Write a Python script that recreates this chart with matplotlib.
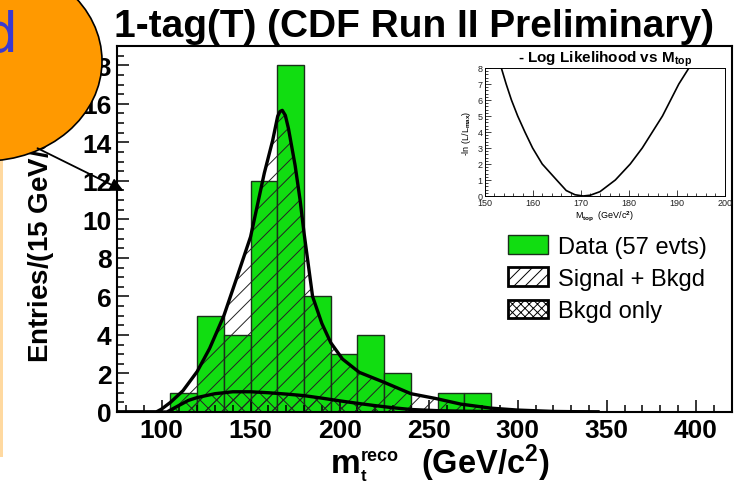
import matplotlib
matplotlib.use('Agg')
import matplotlib.pyplot as plt
from matplotlib.patches import Ellipse, Rectangle, Patch, FancyArrowPatch
from matplotlib.ticker import MultipleLocator

plt.rcParams['font.family'] = ['Liberation Sans', 'DejaVu Sans']
plt.rcParams['mathtext.fontset'] = 'custom'
plt.rcParams['mathtext.rm'] = 'Liberation Sans:bold'
plt.rcParams['mathtext.it'] = 'Liberation Sans:bold'
plt.rcParams['mathtext.bf'] = 'Liberation Sans:bold'
plt.rcParams['hatch.linewidth'] = 0.7

# histogram, 15 GeV bins
bin_lo = [105, 120, 135, 150, 165, 180, 195, 210, 225, 240, 255, 270]
counts = [1, 5, 4, 12, 18, 6, 3, 4, 2, 0, 1, 1]
bin_w = 15

# signal + background fit
fit_m = [75, 97, 100, 105, 112, 120, 127, 135, 142, 150, 157.7, 162.4, 165.2, 166.5,
         167.8, 169.5, 171.3, 175, 177.8, 180, 184.8, 190, 195, 201.6, 211, 225, 240,
         254, 268, 285, 300, 320, 345]
fit_tot = [0, 0, 0.15, 0.5, 1.1, 2.1, 3.3, 5.0, 6.9, 9.1, 12.4, 14.1, 15.35, 15.6,
           15.66, 15.4, 14.7, 12.8, 11.0, 9.3, 6.0, 4.6, 3.6, 2.75, 2.06, 1.54, 0.95,
           0.7, 0.41, 0.2, 0.1, 0.03, 0]

# background only
bkg_m = [75, 103, 110, 115, 120, 130, 140, 150, 160, 170, 180, 190, 200, 210, 220,
         230, 240, 255, 270, 290, 310, 345]
bkg = [0, 0, 0.35, 0.6, 0.75, 0.95, 1.05, 1.05, 1.0, 0.93, 0.85, 0.72, 0.58, 0.45,
       0.33, 0.22, 0.13, 0.07, 0.04, 0.02, 0.01, 0]

# inset: -ln(L/Lmax) vs Mtop
ll_m = [153.5, 154.5, 155.6, 156.9, 158.4, 160.0, 162.0, 165.0, 167.0, 168.8, 170.5,
        172.0, 174.0, 177.2, 180.3, 182.8, 184.9, 187.0, 188.7, 190.4, 192.5]
ll_v = [8, 7, 6, 5, 4, 3, 2, 1, 0.34, 0.08, 0, 0.05, 0.27, 1, 2, 3, 4, 5, 6, 7, 8]

green = '#11dd11'
W, H = 740, 485

fig = plt.figure(figsize=(7.4, 4.85), dpi=100)
ax = fig.add_axes([117 / W, 1 - 413 / H, (731.5 - 117) / W, (413 - 47) / H])

ax.bar(bin_lo, counts, width=bin_w, align='edge', color=green,
       edgecolor='#1a301a', linewidth=1.0, zorder=1)
ax.fill_between(fit_m, 0, fit_tot, facecolor='none', edgecolor='#222222',
                linewidth=0, hatch='//', zorder=2)
ax.fill_between(bkg_m, 0, bkg, facecolor='none', edgecolor='#222222',
                linewidth=0, hatch='xx', zorder=2)
ax.plot(fit_m, fit_tot, color='black', lw=2.4, zorder=3)
ax.plot(bkg_m, bkg, color='black', lw=2.4, zorder=3)

ax.set_xlim(75, 420)
ax.set_ylim(0, 19)
ax.set_xticks(range(100, 401, 50))
ax.set_yticks(range(0, 19, 2))
ax.xaxis.set_minor_locator(MultipleLocator(10))
ax.yaxis.set_minor_locator(MultipleLocator(0.5))
ax.tick_params(which='both', direction='in', width=1.1, labelsize=19)
ax.tick_params(which='major', length=8.5)
ax.tick_params(which='minor', length=4.7)
ax.tick_params(axis='x', pad=4)
ax.tick_params(axis='y', pad=4)
for lab in ax.get_xticklabels() + ax.get_yticklabels():
    lab.set_fontweight('bold')
for s in ax.spines.values():
    s.set_linewidth(1.5)

handles = [Patch(facecolor=green, edgecolor='#1a301a', lw=1.0),
           Patch(facecolor='white', edgecolor='black', hatch='///', lw=2),
           Patch(facecolor='white', edgecolor='black', hatch='xxxx', lw=2)]
ax.legend(handles, ['Data (57 evts)', 'Signal + Bkgd', 'Bkgd only'],
          loc='upper left', bbox_to_anchor=(508 / W, 1 - 236 / H),
          bbox_transform=fig.transFigure, frameon=False, fontsize=17,
          handlelength=1.7, handleheight=0.85, handletextpad=0.42,
          labelspacing=0.41, borderpad=0, borderaxespad=0)

fig.text(414 / W, 1 - 37 / H, '1-tag(T) (CDF Run II Preliminary)', ha='center',
         va='baseline', fontsize=28, fontweight='bold')

# x title: m_t^reco (GeV/c^2)
fig.text(331 / W, 1 - 473 / H, 'm', ha='left', va='baseline', fontsize=24,
         fontweight='bold')
fig.text(361 / W, 1 - 461 / H, 'reco', ha='left', va='baseline', fontsize=13,
         fontweight='bold')
fig.text(361 / W, 1 - 481 / H, 't', ha='left', va='baseline', fontsize=12,
         fontweight='bold')
fig.text(421 / W, 1 - 474 / H, r'(GeV/c$^{2}$)', ha='left', va='baseline',
         fontsize=23.5, fontweight='bold')

fig.text(40 / W, 0.51, r'Entries/(15 GeV/c$^{2}$)', rotation=90, ha='center',
         va='center', fontsize=20, fontweight='bold')

# inset
axi = fig.add_axes([484.5 / W, 1 - 197 / H, (725 - 484.5) / W, (197 - 69) / H])
axi.plot(ll_m, ll_v, color='black', lw=1.2)
axi.set_xlim(150, 200)
axi.set_ylim(0, 8)
axi.set_xticks(range(150, 201, 10))
axi.set_yticks(range(0, 9))
axi.xaxis.set_minor_locator(MultipleLocator(2))
axi.yaxis.set_minor_locator(MultipleLocator(0.2))
axi.tick_params(which='both', direction='in', width=0.6, labelsize=6.5, pad=1.5,
                colors='#222222')
axi.tick_params(which='major', length=4)
axi.tick_params(which='minor', length=2)
for s in axi.spines.values():
    s.set_linewidth(0.7)
axi.set_title(r'- Log Likelihood vs M$_{top}$', fontsize=11, fontweight='bold', pad=2)
axi.set_xlabel(r'M$_{top}$  (GeV/c$^{2}$)', fontsize=6.5, labelpad=1)
axi.set_ylabel(r'-ln (L/L$_{max}$)', fontsize=6.5, labelpad=3)

# overlay: orange bubble, arrow, side strip
fig.add_artist(Rectangle((0, 1 - 458 / H), 3 / W, (458 - 160) / H,
                         transform=fig.transFigure, facecolor='#ffd9a0',
                         edgecolor='none', zorder=9))
fig.add_artist(Ellipse((-15 / W, 1 - 62 / H), 234 / W, 200 / H,
                       transform=fig.transFigure, facecolor='#ff9900',
                       edgecolor='black', lw=1.2, zorder=10))
fig.text(18 / W, 1 - 52 / H, 'd', ha='right', va='baseline', fontsize=40,
         color='#3a3ad0', family='DejaVu Sans', zorder=11)
fig.add_artist(FancyArrowPatch((35 / W, 1 - 148 / H), (126 / W, 1 - 193 / H),
                               transform=fig.transFigure, arrowstyle='-|>',
                               mutation_scale=20, lw=1.3, color='black', zorder=11))

fig.savefig('out.png', dpi=100)
